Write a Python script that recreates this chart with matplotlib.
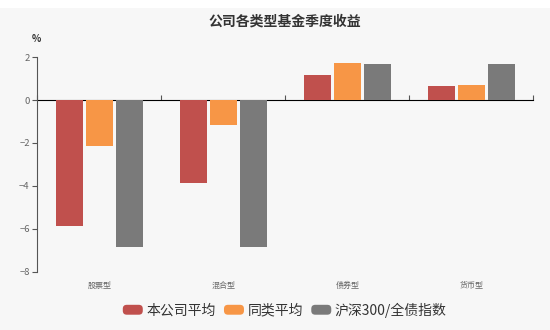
import matplotlib
matplotlib.use("Agg")
import matplotlib.pyplot as plt
from matplotlib.patches import FancyBboxPatch
from matplotlib.legend_handler import HandlerPatch
import numpy as np

plt.rcParams['font.family'] = ['Noto Sans CJK SC', 'DejaVu Sans']

categories = ['股票型', '混合型', '债券型', '货币型']
series_names = ['本公司平均', '同类平均', '沪深300/全债指数']
company_avg = [-5.86, -3.85, 1.17, 0.66]
peer_avg = [-2.14, -1.18, 1.74, 0.69]
index_ret = [-6.87, -6.87, 1.68, 1.68]
colors = ['#c0504d', '#f79646', '#7a7a7a']
yticks = [-8, -6, -4, -2, 0, 2]

bg = '#f7f7f7'
W, H = 550, 330
fig = plt.figure(figsize=(5.5, 3.3), dpi=100, facecolor='white')
fig.patches.append(plt.Rectangle((0, 0), 1, 1 - 8 / H, transform=fig.transFigure,
                                 facecolor=bg, edgecolor='none', zorder=-10))
L, R, T, B = 37.3, 533.3, 57.3, 271.5
ax = fig.add_axes([L / W, 1 - B / H, (R - L) / W, (B - T) / H])
ax.set_facecolor(bg)

x = np.arange(len(categories))
w = 0.215
step = 0.2425
for i, (vals, c, name) in enumerate(zip([company_avg, peer_avg, index_ret], colors, series_names)):
    ax.bar(x + (i - 1) * step, vals, width=w, color=c, label=name, zorder=3)

ax.set_xlim(-0.5, len(categories) - 0.5)
ax.set_ylim(-8, 2)
ax.set_yticks(yticks)
ax.tick_params(axis='y', labelcolor='#666666', labelsize=6.8, length=3.5, width=0.8,
               pad=2, color='#555555')
for s in ['top', 'right', 'bottom']:
    ax.spines[s].set_visible(False)
ax.spines['left'].set_color('#555555')
ax.spines['left'].set_linewidth(0.8)

ax.set_xticks(x)
ax.set_xticklabels(categories)
ax.tick_params(axis='x', length=0, labelsize=5.8, colors='#666666', pad=7)

# zero axis line with category boundary ticks
sec = ax.secondary_xaxis(0.8)
sec.set_xticks(np.arange(len(categories) + 1) - 0.5)
sec.set_xticklabels([])
sec.tick_params(length=3.5, width=0.8, color='#555555')
sec.spines['bottom'].set_color('#555555')
sec.spines['bottom'].set_linewidth(0.8)

fig.text(36.7 / W, 1 - 39 / H, '%', fontsize=7, color='#333333', fontweight='bold',
         ha='center', va='center')
fig.suptitle('公司各类型基金季度收益', x=285 / W, y=1 - 21.5 / H, fontsize=10,
             fontweight='bold', color='#333333', va='center')


class RoundHandler(HandlerPatch):
    def create_artists(self, legend, orig_handle, xdescent, ydescent, width, height, fontsize, trans):
        p = FancyBboxPatch((-xdescent, -ydescent), width, height,
                           boxstyle='round,pad=0,rounding_size=%f' % (height * 0.4),
                           facecolor=orig_handle.get_facecolor(), edgecolor='none',
                           transform=trans)
        return [p]


handles, labels = ax.get_legend_handles_labels()
handles = [h.patches[0] for h in handles]
leg = fig.legend(handles, labels, loc='center', bbox_to_anchor=(284.7 / W, 1 - 310 / H),
                 ncol=3, frameon=False, fontsize=10, handlelength=1.44, handleheight=0.72,
                 handletextpad=0.25, columnspacing=0.6, borderpad=0, borderaxespad=0,
                 handler_map={h: RoundHandler() for h in handles})
for t in leg.get_texts():
    t.set_color('#333333')

fig.savefig('out.png', dpi=100, facecolor=fig.get_facecolor())
